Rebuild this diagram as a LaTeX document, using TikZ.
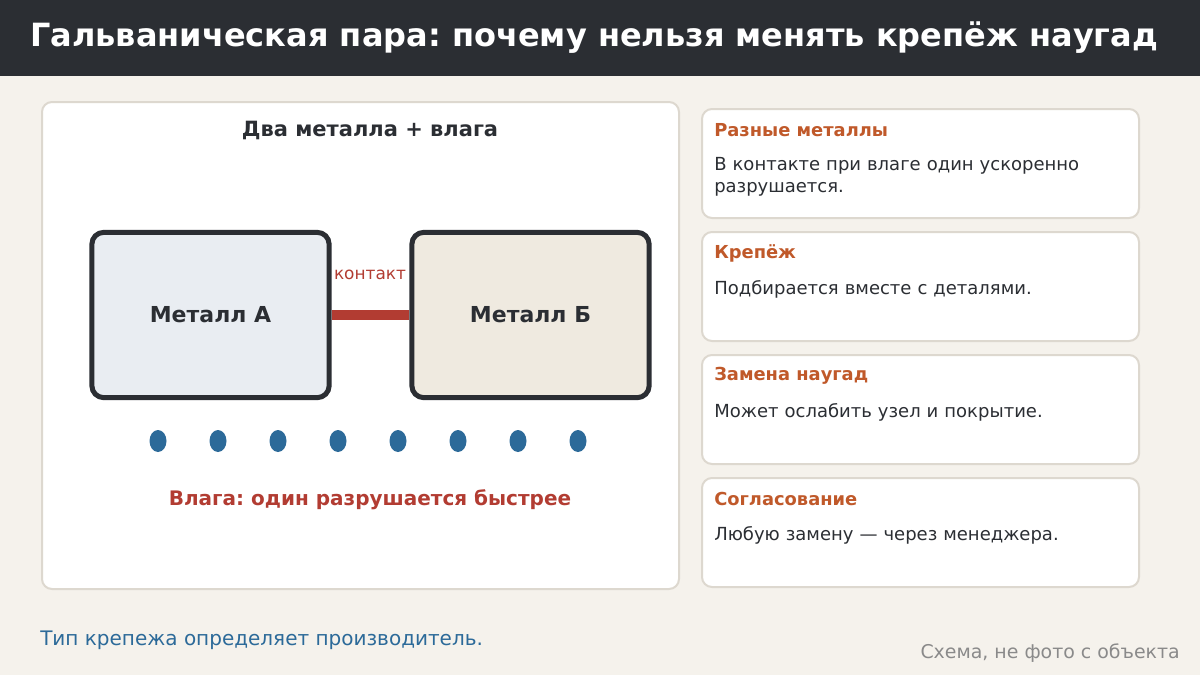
\documentclass[tikz,border=0pt]{standalone}
\usepackage{fontspec}
\setmainfont{DejaVu Sans}
\usetikzlibrary{positioning}
\frenchspacing
\definecolor{hdr}{HTML}{2B2E33}
\definecolor{bgc}{HTML}{F5F2EC}
\definecolor{frm}{HTML}{DDD8CF}
\definecolor{metA}{HTML}{E9EDF2}
\definecolor{metB}{HTML}{EFEAE0}
\definecolor{rust}{HTML}{B23C32}
\definecolor{drop}{HTML}{2C6A99}
\definecolor{ttl}{HTML}{C0592A}
\definecolor{ink}{HTML}{2B2E33}
\definecolor{note}{HTML}{8A8A8A}
\begin{document}
\begin{tikzpicture}[x=0.75pt,y=-0.75pt,
  panel/.style={draw=frm,line width=1.5pt,fill=white,rounded corners=7.5pt},
  metal/.style={draw=ink,line width=3.75pt,rounded corners=9pt,minimum width=178pt,minimum height=124pt,font=\bfseries\fontsize{16.5}{20}\selectfont,text=ink},
  ctitle/.style={anchor=west,font=\bfseries\fontsize{13.4}{16}\selectfont,text=ttl,inner sep=0pt},
  cbody/.style={anchor=north west,align=left,text width=310pt,font=\fontsize{13.5}{16.5}\selectfont,text=ink,inner sep=0pt}]
\useasboundingbox (0,0) rectangle (1200,675);
\fill[bgc] (0,0) rectangle (1200,675);
\fill[hdr] (0,0) rectangle (1200,76);
\node[anchor=west,text=white,font=\bfseries\fontsize{24}{28}\selectfont,inner sep=0pt] (title) at (30,38) {Гальваническая пара: почему нельзя менять крепёж наугад};
% left panel
\draw[panel] (42,102) rectangle (679,589);
\node[font=\bfseries\fontsize{15.75}{19}\selectfont,text=ink] (head) at (370,130) {Два металла + влага};
\node[metal,fill=metA] (ma) at (210.5,315) {Металл А};
\node[metal,fill=metB] (mb) at (530.5,315) {Металл Б};
\draw[rust,line width=7pt] (ma.east) -- (mb.west);
\node[text=rust,font=\fontsize{12.7}{15}\selectfont] (cont) at (370,275) {контакт};
\foreach \i in {0,...,7}
  \fill[drop] (158+60*\i,441) ellipse (8.5 and 11);
\node[text=rust,font=\bfseries\fontsize{15}{18}\selectfont] (wet) at (370,500) {Влага: один разрушается быстрее};
% cards
\foreach \y/\t/\b [count=\n] in {109/Разные металлы/{В контакте при влаге один ускоренно\\разрушается.},
    232/Крепёж/Подбирается вместе с деталями.,
    355/Замена наугад/Может ослабить узел и покрытие.,
    478/Согласование/Любую замену — через менеджера.}{
  \draw[panel] (702,\y) rectangle (1139,\y+109);
  \node[ctitle] (ct\n) at (714,\y+21) {\t};
  \node[cbody] (cb\n) at (714,\y+48) {\b};
}
% footer
\node[anchor=west,text=drop,font=\fontsize{15}{18}\selectfont,inner sep=0pt] (foot) at (40,640) {Тип крепежа определяет производитель.};
\node[anchor=east,text=note,font=\fontsize{14.2}{17}\selectfont,inner sep=0pt] (src) at (1180,653) {Схема, не фото с объекта};
\end{tikzpicture}
\end{document}
